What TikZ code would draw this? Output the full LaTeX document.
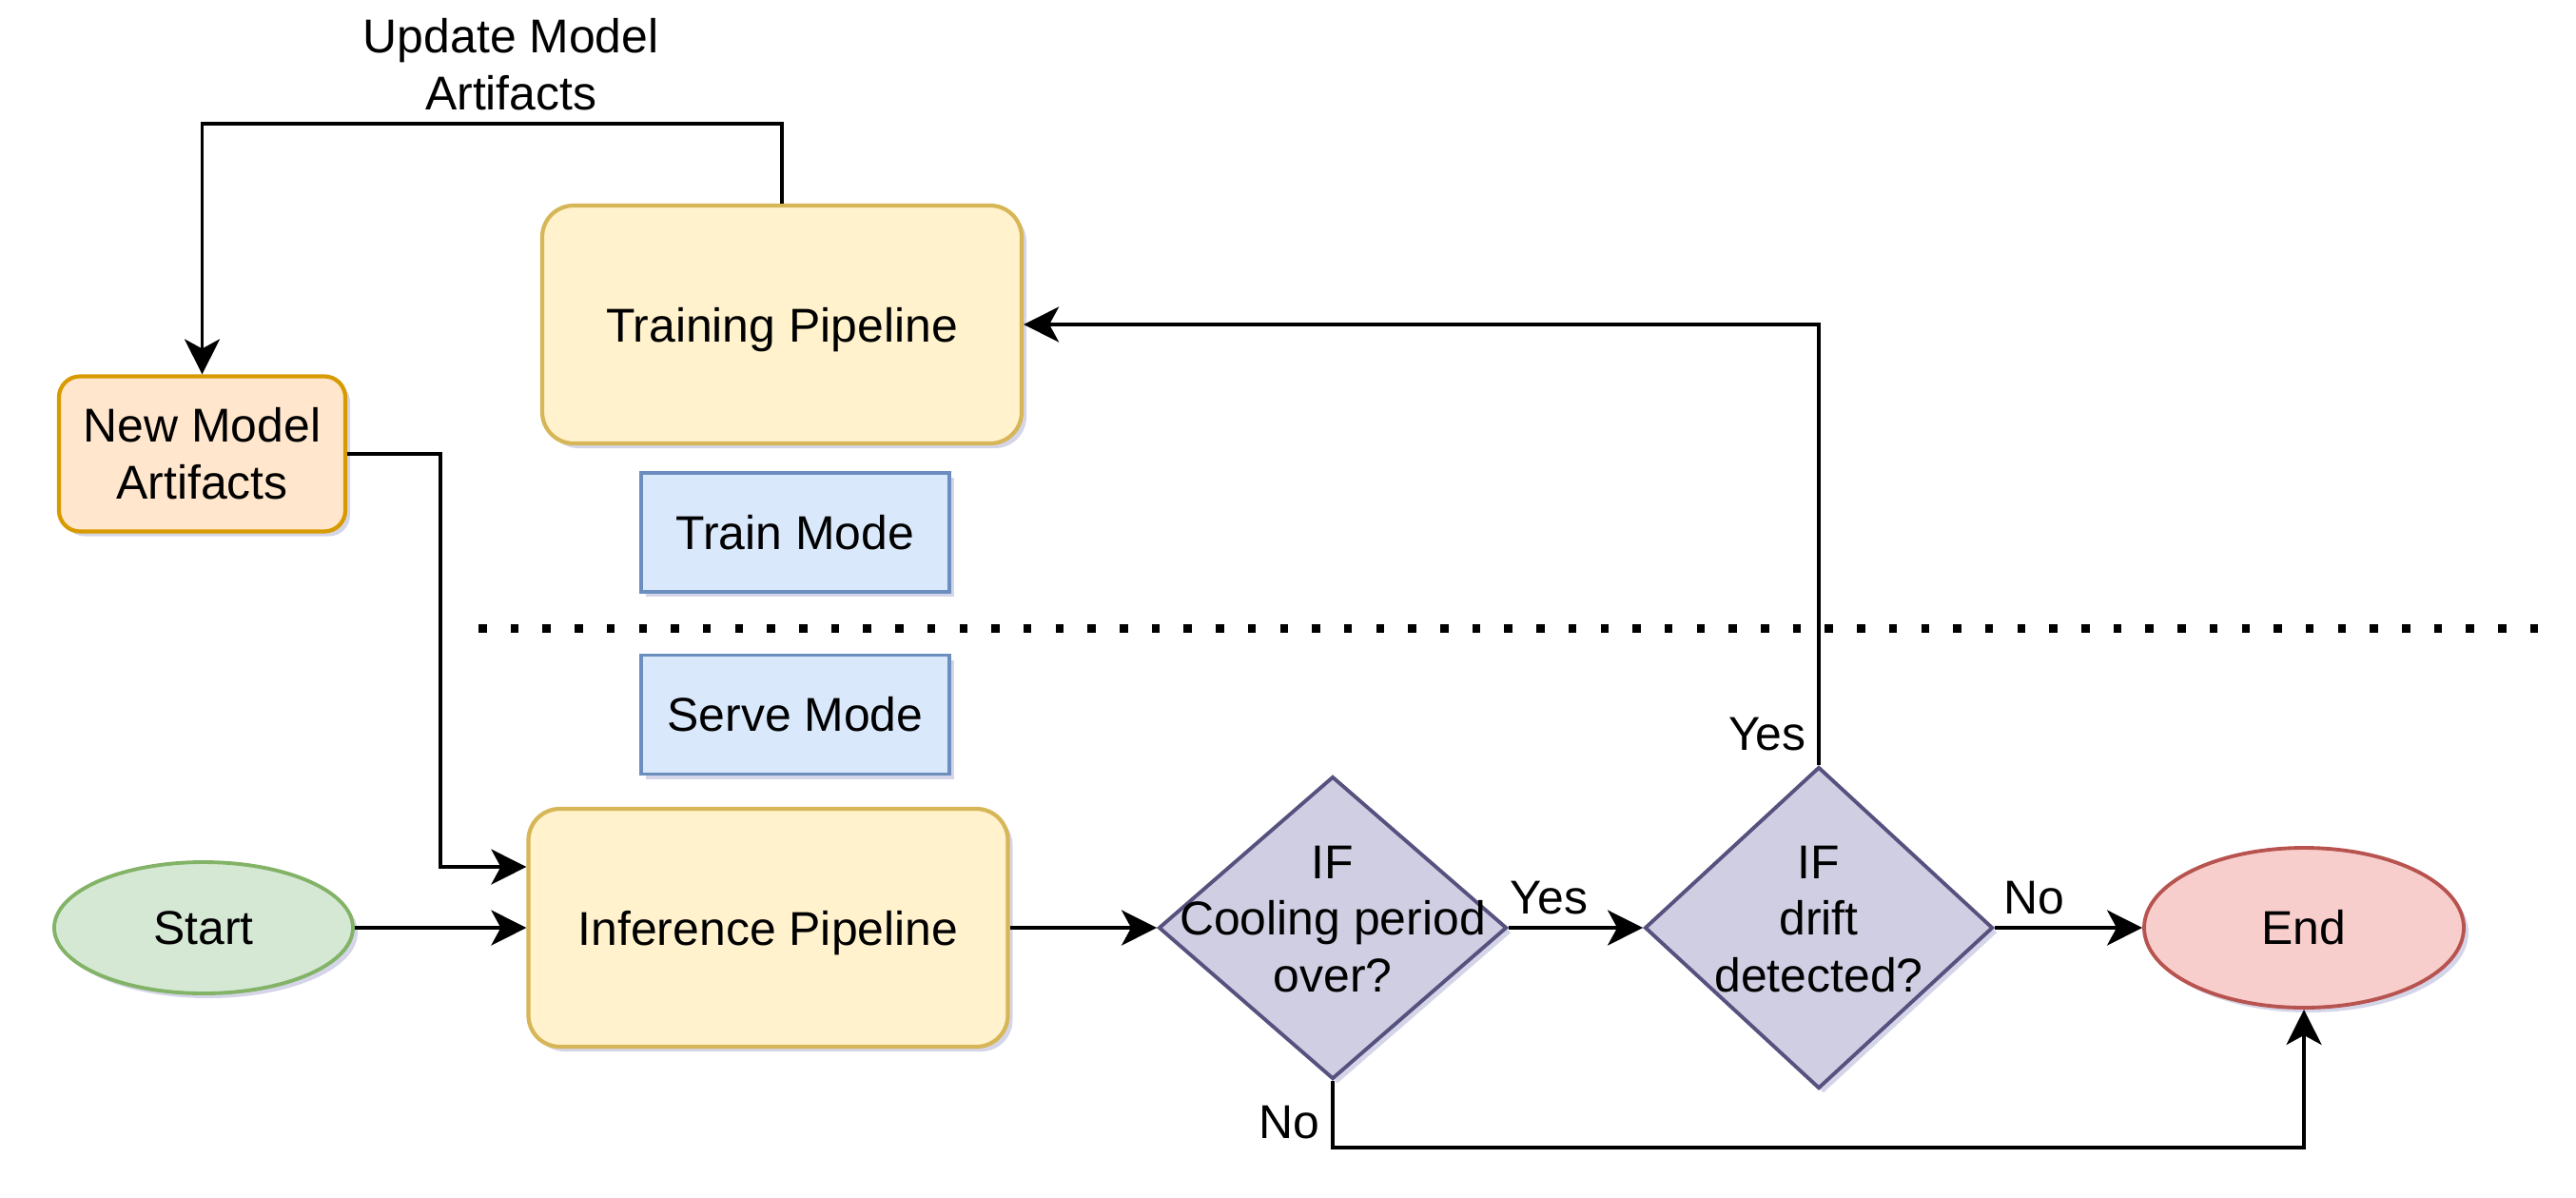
\documentclass[tikz,border=0pt]{standalone}
\usepackage{fontspec}
\setmainfont{Liberation Sans}
\usetikzlibrary{shapes.geometric,arrows.meta,shadows}

\definecolor{pipefill}{HTML}{FFF2CC}
\definecolor{pipeline}{HTML}{D6B656}
\definecolor{artfill}{HTML}{FFE6CC}
\definecolor{artline}{HTML}{D79B00}
\definecolor{modefill}{HTML}{DAE8FC}
\definecolor{modeline}{HTML}{6C8EBF}
\definecolor{startfill}{HTML}{D5E8D4}
\definecolor{startline}{HTML}{82B366}
\definecolor{endfill}{HTML}{F8CECC}
\definecolor{endline}{HTML}{B85450}
\definecolor{iffill}{HTML}{D0CEE2}
\definecolor{ifline}{HTML}{56517E}

\begin{document}
\begin{tikzpicture}
        \tikzstyle{every node}=[font=\fontsize{14.2}{17}\selectfont]
        \tikzstyle{softshadow}=[drop shadow={shadow xshift=0.05cm, shadow yshift=-0.05cm, opacity=0.25, fill=gray!70!blue}]
        \tikzstyle{pipebox}=[softshadow, rectangle, rounded corners=0.33cm, draw=pipeline, fill=pipefill, line width=1.2pt, minimum width=5.04cm, minimum height=2.5cm, text depth=0pt]
        \tikzstyle{artbox}=[softshadow, rectangle, rounded corners=0.22cm, draw=artline, fill=artfill, line width=1.2pt, minimum width=3.01cm, minimum height=1.63cm, align=center]
        \tikzstyle{modebox}=[softshadow, rectangle, draw=modeline, fill=modefill, line width=1.1pt, minimum width=3.24cm, minimum height=1.25cm]
        \tikzstyle{terminal}=[softshadow, ellipse, line width=1.1pt]
        \tikzstyle{decision}=[softshadow, diamond, draw=ifline, fill=iffill, line width=1.1pt, inner sep=0pt, minimum width=3.66cm]
        \tikzstyle{arr}=[line width=1.05pt, -{Stealth[length=0.37cm, width=0.37cm, inset=0.1cm]}]

        \useasboundingbox (0,0) rectangle (27.08,-12.58);

        % train side
        \node[pipebox] (train) at (8.22,-3.41) {Training Pipeline};
        \node[artbox] (newart) at (2.125,-4.77) {New Model\\Artifacts};
        \node[modebox] (trainmode) at (8.36,-5.595) {Train Mode};

        \draw[line width=0.09cm, dash pattern=on 0.085cm off 0.252cm] (5.03,-6.6) -- (26.7,-6.6);

        % serve side
        \node[modebox] (servemode) at (8.36,-7.51) {Serve Mode};
        \node[terminal, draw=startline, fill=startfill, minimum width=3.14cm, minimum height=1.38cm] (start) at (2.14,-9.75) {Start};
        \node[pipebox] (infer) at (8.075,-9.75) {Inference Pipeline};
        \node[decision, minimum height=3.18cm] (cool) at (14.01,-9.75) {};
        \node[align=center] (cooltext) at (14.01,-9.66) {IF\\Cooling period\\over?};
        \node[decision, minimum height=3.38cm] (drift) at (19.12,-9.75) {};
        \node[align=center] (drifttext) at (19.12,-9.66) {IF\\drift\\detected?};
        \node[terminal, draw=endline, fill=endfill, minimum width=3.36cm, minimum height=1.68cm] (end) at (24.22,-9.75) {End};

        \draw[arr] (train.north) -- ++(0,0.84) -| (newart.north)
            node[pos=0.25, above, xshift=0.2cm, align=center, inner sep=3.5pt] {Update Model\\Artifacts};
        \draw[arr] (newart.east) -- ++(0.98,0) |- ([yshift=0.64cm]infer.west);
        \draw[arr] (start) -- (infer);
        \draw[arr] (infer) -- (cool);
        \draw[arr] (cool) -- (drift) node[pos=0.3, above] {Yes};
        \draw[arr] (drift) -- (end) node[pos=0.27, above] {No};
        \draw[arr] (cool.south) -- ++(0,-0.7) node[pos=0.63, left] {No} -| (end.south);
        \draw[arr] (drift.north) |- (train.east)
            node[pos=0.035, left] {Yes};
\end{tikzpicture}
\end{document}
